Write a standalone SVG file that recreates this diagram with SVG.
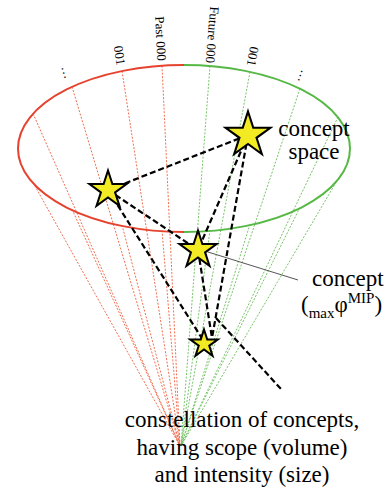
<svg xmlns="http://www.w3.org/2000/svg" width="390" height="490" viewBox="0 0 390 490">
<style>
.rd{stroke:#f07050;stroke-width:1;stroke-dasharray:2 1.5;fill:none}
.gd{stroke:#78c468;stroke-width:1;stroke-dasharray:2 1.5;fill:none}
.dash{stroke:#000;stroke-width:2.2;stroke-dasharray:6 3;fill:none}
.star{fill:#f2ea22;stroke:#000;stroke-linejoin:miter}
</style>
<defs>
<path id="st" d="M0,-10 L2.245,-3.09 L9.511,-3.09 L3.633,1.18 L5.878,8.09 L0,3.82 L-5.878,8.09 L-3.633,1.18 L-9.511,-3.09 L-2.245,-3.09 Z"/>
</defs>
<g id="cone-lines">
<line class="rd" x1="33" y1="113.5" x2="180" y2="446"/>
<line class="rd" x1="33" y1="182.5" x2="180" y2="446"/>
<line class="rd" x1="72" y1="86.7" x2="180" y2="446"/>
<line class="rd" x1="72" y1="209.3" x2="180" y2="446"/>
<line class="rd" x1="122" y1="71" x2="180" y2="446"/>
<line class="rd" x1="122" y1="225" x2="180" y2="446"/>
<line class="rd" x1="162" y1="65.7" x2="180" y2="446"/>
<line class="rd" x1="162" y1="230.3" x2="180" y2="446"/>
<line class="gd" x1="210" y1="66" x2="181" y2="446"/>
<line class="gd" x1="210" y1="230" x2="181" y2="446"/>
<line class="gd" x1="250" y1="71.8" x2="181" y2="446"/>
<line class="gd" x1="250" y1="224.2" x2="181" y2="446"/>
<line class="gd" x1="300" y1="88.6" x2="181" y2="446"/>
<line class="gd" x1="300" y1="207.4" x2="181" y2="446"/>
<line class="gd" x1="338" y1="117" x2="181" y2="446"/>
<line class="gd" x1="338" y1="179" x2="181" y2="446"/>
</g>
<g id="ellipse">
<path d="M184,65 A166,83.5 0 0 0 184,232" fill="none" stroke="#e5432f" stroke-width="2"/>
<path d="M184,65 A166,83.5 0 0 1 184,232" fill="none" stroke="#56b845" stroke-width="2"/>
</g>
<g id="tick-labels" font-family="'Liberation Serif','Times New Roman',serif" font-size="13" fill="#000">
<text transform="translate(72,86.7) rotate(73.3)" x="-9" text-anchor="end" dominant-baseline="central">…</text>
<text transform="translate(122,71) rotate(81.2)" x="-6" text-anchor="end" dominant-baseline="central">001</text>
<text transform="translate(162,65.7) rotate(87.3)" x="-5" text-anchor="end" dominant-baseline="central">Past 000</text>
<text transform="translate(210,66) rotate(94.5)" x="-3" text-anchor="end" dominant-baseline="central">Future 000</text>
<text transform="translate(250,71.8) rotate(100.6)" x="-6" text-anchor="end" dominant-baseline="central">001</text>
<text transform="translate(300,88.6) rotate(108.6)" x="-6" text-anchor="end" dominant-baseline="central">…</text>
</g>
<g id="connectors">
<line class="dash" x1="108" y1="190" x2="248" y2="135"/>
<line class="dash" x1="108" y1="190" x2="198" y2="250"/>
<line class="dash" x1="108" y1="190" x2="203" y2="340"/>
<line class="dash" x1="248" y1="135" x2="198" y2="250"/>
<line class="dash" x1="248" y1="135" x2="212" y2="338"/>
<line class="dash" x1="198" y1="250" x2="212" y2="338"/>
<line class="dash" x1="216" y1="318" x2="281" y2="389"/>
<line x1="208" y1="252" x2="298" y2="280" stroke="#555" stroke-width="1"/>
</g>
<g id="star-big"><use href="#st" class="star" transform="translate(248,135) scale(2.35)" stroke-width="0.9"/></g>
<g id="star-left"><use href="#st" class="star" transform="translate(108,190) scale(1.95)" stroke-width="1.05"/></g>
<g id="star-mid"><use href="#st" class="star" transform="translate(198,250) scale(1.95)" stroke-width="1.05"/></g>
<g id="star-small"><use href="#st" class="star" transform="translate(204,344) scale(1.45)" stroke-width="1.4"/></g>
<g id="label-space" font-family="'Liberation Serif','Times New Roman',serif" font-size="23" fill="#000" text-anchor="middle">
<text x="314" y="136">concept</text>
<text x="314" y="159">space</text>
</g>
<g id="label-concept" font-family="'Liberation Serif','Times New Roman',serif" font-size="23" fill="#000">
<text x="312" y="286">concept</text>
<text x="301" y="312">(<tspan font-size="15" dy="6">max</tspan><tspan dy="-6">φ</tspan><tspan font-size="15" dy="-9">MIP</tspan><tspan dy="9">)</tspan></text>
</g>
<g id="label-constellation" font-family="'Liberation Serif','Times New Roman',serif" font-size="23" fill="#000" text-anchor="middle">
<text x="242" y="427">constellation of concepts,</text>
<text x="242" y="455">having scope (volume)</text>
<text x="242" y="482">and intensity (size)</text>
</g>
</svg>
